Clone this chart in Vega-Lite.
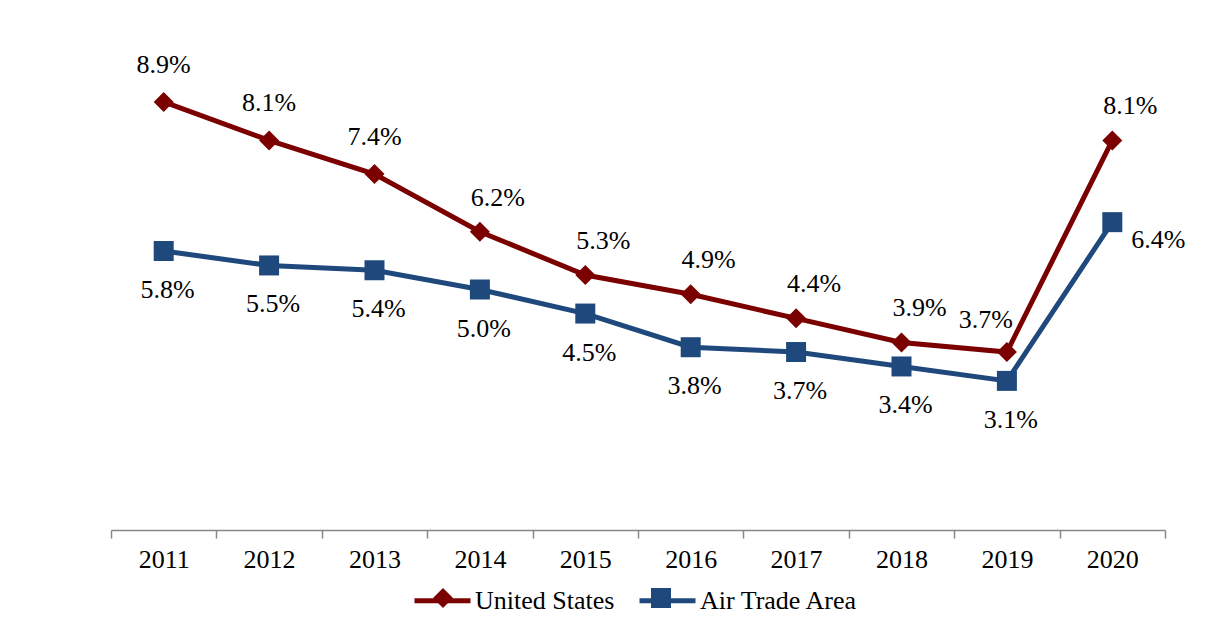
{
  "$schema": "https://vega.github.io/schema/vega-lite/v6.json",
  "width": 1054,
  "height": 481,
  "autosize": {"type": "none"},
  "padding": {"left": 111, "top": 49, "right": 41, "bottom": 90},
  "background": "white",
  "config": {"view": {"stroke": null}, "font": "Liberation Serif"},
  "resolve": {"legend": {"color": "independent", "shape": "independent"}},
  "data": {"values": [
    {"year": 2011, "series": "United States", "value": 0.089},
    {"year": 2012, "series": "United States", "value": 0.081},
    {"year": 2013, "series": "United States", "value": 0.074},
    {"year": 2014, "series": "United States", "value": 0.062},
    {"year": 2015, "series": "United States", "value": 0.053},
    {"year": 2016, "series": "United States", "value": 0.049},
    {"year": 2017, "series": "United States", "value": 0.044},
    {"year": 2018, "series": "United States", "value": 0.039},
    {"year": 2019, "series": "United States", "value": 0.037},
    {"year": 2020, "series": "United States", "value": 0.081},
    {"year": 2011, "series": "Air Trade Area", "value": 0.058},
    {"year": 2012, "series": "Air Trade Area", "value": 0.055},
    {"year": 2013, "series": "Air Trade Area", "value": 0.054},
    {"year": 2014, "series": "Air Trade Area", "value": 0.050},
    {"year": 2015, "series": "Air Trade Area", "value": 0.045},
    {"year": 2016, "series": "Air Trade Area", "value": 0.038},
    {"year": 2017, "series": "Air Trade Area", "value": 0.037},
    {"year": 2018, "series": "Air Trade Area", "value": 0.034},
    {"year": 2019, "series": "Air Trade Area", "value": 0.031},
    {"year": 2020, "series": "Air Trade Area", "value": 0.064}
  ]},
  "encoding": {
    "x": {"field": "year", "type": "quantitative",
      "scale": {"domain": [2010.5, 2020.5], "nice": false, "zero": false},
      "axis": {"title": null, "grid": false,
        "values": [2010.5, 2011.5, 2012.5, 2013.5, 2014.5, 2015.5, 2016.5, 2017.5, 2018.5, 2019.5, 2020.5],
        "labelExpr": "datum.value > 2020 ? '' : format(datum.value + 0.5, 'd')",
        "labelOffset": 52.7, "labelFlush": false, "labelOverlap": false,
        "labelFont": "Liberation Serif", "labelFontSize": 26, "labelColor": "black",
        "labelPadding": 8, "tickSize": 8, "tickColor": "#888888", "tickWidth": 1.5,
        "domainColor": "#888888", "domainWidth": 1.5}},
    "y": {"field": "value", "type": "quantitative",
      "scale": {"domain": [0, 0.1], "nice": false}, "axis": null}
  },
  "layer": [
    {"mark": {"type": "line", "strokeWidth": 5},
     "encoding": {"color": {"field": "series", "type": "nominal",
       "scale": {"domain": ["United States", "Air Trade Area"], "range": ["#7B0000", "#1F497D"]},
       "legend": {"orient": "none", "legendX": 301, "legendY": 521, "direction": "horizontal", "title": null, "padding": 0,
         "symbolType": "stroke", "symbolSize": 3136, "symbolStrokeWidth": 5,
         "labelFont": "Liberation Serif", "labelFontSize": 26, "labelColor": "black",
         "labelOffset": 2, "columnPadding": 14}}}},
    {"mark": {"type": "point", "size": 400, "filled": true, "opacity": 1},
     "encoding": {
       "color": {"field": "series", "type": "nominal",
         "legend": {"orient": "none", "legendX": 319, "legendY": 536, "direction": "horizontal", "title": null, "padding": 0,
           "symbolSize": 400, "symbolStrokeWidth": 0, "symbolOpacity": 1,
           "labelFont": "Liberation Serif", "labelFontSize": 26, "labelColor": "transparent", "labelOpacity": 0,
           "labelOffset": 20, "columnPadding": 32}},
       "shape": {"field": "series", "type": "nominal",
         "scale": {"domain": ["United States", "Air Trade Area"], "range": ["diamond", "square"]},
         "legend": {"orient": "none", "legendX": 319, "legendY": 536, "direction": "horizontal", "title": null, "padding": 0,
           "symbolSize": 400, "symbolStrokeWidth": 0, "symbolOpacity": 1,
           "labelFont": "Liberation Serif", "labelFontSize": 26, "labelColor": "transparent", "labelOpacity": 0,
           "labelOffset": 20, "columnPadding": 32}}}},
    {"transform": [{"filter": "datum.series === 'United States' && datum.year <= 2013"}],
     "mark": {"type": "text", "fontSize": 26, "font": "Liberation Serif", "color": "black", "baseline": "middle", "dy": -37},
     "encoding": {"text": {"field": "value", "type": "quantitative", "format": ".1%"}}},
    {"transform": [{"filter": "datum.series === 'United States' && datum.year >= 2014 && datum.year != 2019"}],
     "mark": {"type": "text", "fontSize": 26, "font": "Liberation Serif", "color": "black", "baseline": "middle", "dx": 18, "dy": -34},
     "encoding": {"text": {"field": "value", "type": "quantitative", "format": ".1%"}}},
    {"transform": [{"filter": "datum.series === 'United States' && datum.year == 2019"}],
     "mark": {"type": "text", "fontSize": 26, "font": "Liberation Serif", "color": "black", "baseline": "middle", "dx": -21, "dy": -32},
     "encoding": {"text": {"field": "value", "type": "quantitative", "format": ".1%"}}},
    {"transform": [{"filter": "datum.series === 'Air Trade Area' && datum.year <= 2019"}],
     "mark": {"type": "text", "fontSize": 26, "font": "Liberation Serif", "color": "black", "baseline": "middle", "dx": 4, "dy": 39},
     "encoding": {"text": {"field": "value", "type": "quantitative", "format": ".1%"}}},
    {"transform": [{"filter": "datum.series === 'Air Trade Area' && datum.year == 2020"}],
     "mark": {"type": "text", "fontSize": 26, "font": "Liberation Serif", "color": "black", "baseline": "middle", "dx": 46, "dy": 18},
     "encoding": {"text": {"field": "value", "type": "quantitative", "format": ".1%"}}}
  ]
}
